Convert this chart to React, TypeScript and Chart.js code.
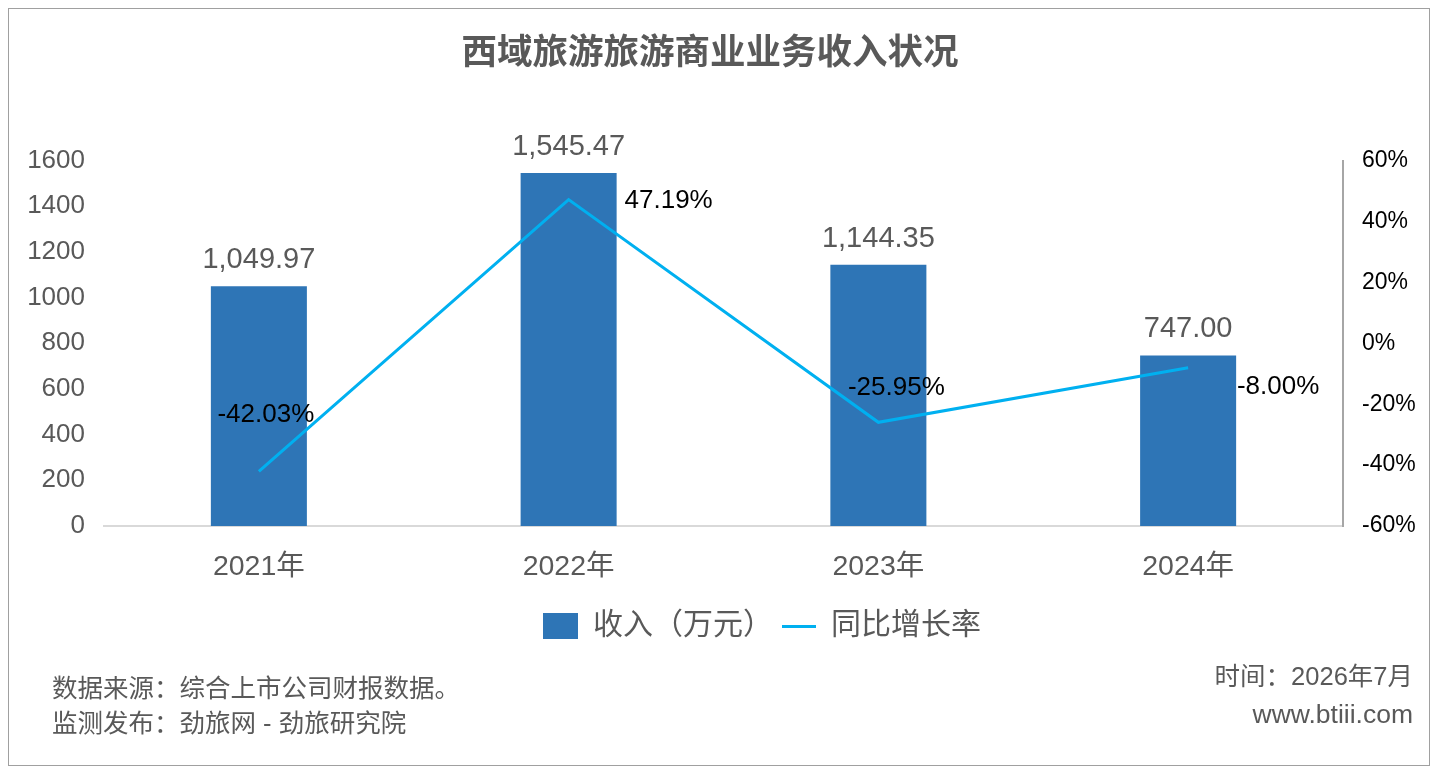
import { useEffect, useRef } from "react";
import { Chart, ChartConfiguration, Plugin, registerables } from "chart.js";

Chart.register(...registerables);

const years = ["2021年", "2022年", "2023年", "2024年"];
const revenue = [1049.97, 1545.47, 1144.35, 747.0];
const growth = [-42.03, 47.19, -25.95, -8.0];
const leftTicks = { min: 0, max: 1600, step: 200 };
const rightTicks = { min: -60, max: 60, step: 20 };

// where each growth label sits relative to its point (px)
const growthLabelOffsets = [
    [7, -56],
    [100, 1],
    [18, -34],
    [90, 19],
];

const FONT = '"Liberation Sans", "Noto Sans CJK SC", sans-serif';
const GREY = "#595959";
const BAR_BLUE = "#2E75B6";
const LINE_BLUE = "#00B0F0";

const labelsPlugin: Plugin<"bar"> = {
    id: "valueLabels",
    afterDatasetsDraw(chart) {
        const ctx = chart.ctx;
        ctx.save();
        ctx.textAlign = "center";
        ctx.textBaseline = "middle";

        const barMeta = chart.getDatasetMeta(0);
        ctx.font = `29px ${FONT}`;
        ctx.fillStyle = GREY;
        barMeta.data.forEach((el, i) => {
            const text = revenue[i].toLocaleString("en-US", {
                minimumFractionDigits: 2,
                maximumFractionDigits: 2,
            });
            ctx.fillText(text, el.x, el.y - 26);
        });

        const lineMeta = chart.getDatasetMeta(1);
        ctx.font = `26px ${FONT}`;
        ctx.fillStyle = "#000000";
        lineMeta.data.forEach((el, i) => {
            const [dx, dy] = growthLabelOffsets[i];
            ctx.fillText(growth[i].toFixed(2) + "%", el.x + dx, el.y + dy);
        });
        ctx.restore();
    },
};

const footerPlugin: Plugin<"bar"> = {
    id: "footerText",
    afterDraw(chart) {
        const ctx = chart.ctx;
        ctx.save();
        ctx.font = `25.5px ${FONT}`;
        ctx.fillStyle = GREY;
        ctx.textBaseline = "middle";
        ctx.textAlign = "left";
        ctx.fillText("数据来源：综合上市公司财报数据。", 43, 681);
        ctx.fillText("监测发布：劲旅网 - 劲旅研究院", 43, 716);
        ctx.textAlign = "right";
        ctx.fillText("时间：2026年7月", 1404, 669);
        ctx.font = `26.5px ${FONT}`;
        ctx.fillText("www.btiii.com", 1404, 707);
        ctx.restore();
    },
};

// nudge title and legend off-centre, as in the original layout
const shiftPlugin: Plugin<"bar"> = {
    id: "shiftBlocks",
    afterLayout(chart) {
        const c = chart as unknown as {
            legend?: { left: number; right: number };
            titleBlock?: { left: number; right: number };
        };
        if (c.legend) {
            c.legend.left += 43;
            c.legend.right += 43;
        }
        if (c.titleBlock) {
            c.titleBlock.left -= 9;
            c.titleBlock.right -= 9;
        }
    },
};

function makeSwatch(w: number, h: number, color: string) {
    const c = document.createElement("canvas");
    c.width = w;
    c.height = h;
    const g = c.getContext("2d");
    if (g) {
        g.fillStyle = color;
        g.fillRect(0, 0, w, h);
    }
    return c;
}

export default function App() {
    const chartRef = useRef<HTMLCanvasElement | null>(null);
    const chartInstance = useRef<Chart | null>(null);

    useEffect(() => {
        if (!chartRef.current) return;
        const ctx = chartRef.current.getContext("2d");
        if (!ctx) return;
        if (chartInstance.current) chartInstance.current.destroy();

        const barSwatch = makeSwatch(35, 26, BAR_BLUE);
        const lineSwatch = makeSwatch(34, 3, LINE_BLUE);

        const config: ChartConfiguration<"bar" | "line", number[], string> = {
            type: "bar",
            data: {
                labels: years,
                datasets: [
                    {
                        type: "bar",
                        label: "收入（万元）",
                        data: revenue,
                        backgroundColor: BAR_BLUE,
                        barPercentage: 0.31,
                        categoryPercentage: 1,
                        yAxisID: "y",
                        order: 1,
                    },
                    {
                        type: "line",
                        label: "同比增长率",
                        data: growth,
                        borderColor: LINE_BLUE,
                        borderWidth: 3,
                        pointRadius: 0,
                        tension: 0,
                        yAxisID: "y1",
                        order: 0,
                    },
                ],
            },
            options: {
                animation: false,
                responsive: false,
                layout: { padding: { left: 0, right: 0, top: 0, bottom: 114 } },
                plugins: {
                    title: {
                        display: true,
                        text: "西域旅游旅游商业业务收入状况",
                        color: GREY,
                        font: { family: FONT, size: 35.5, weight: "bold" },
                        padding: { top: 24, bottom: 85 },
                    },
                    legend: {
                        position: "bottom",
                        labels: {
                            usePointStyle: true,
                            pointStyleWidth: 35,
                            color: GREY,
                            font: { family: FONT, size: 30 },
                            padding: 8,
                            generateLabels: () => [
                                {
                                    text: "收入（万元）",
                                    pointStyle: barSwatch,
                                    fillStyle: BAR_BLUE,
                                    strokeStyle: BAR_BLUE,
                                    lineWidth: 0,
                                    hidden: false,
                                    datasetIndex: 0,
                                    fontColor: GREY,
                                },
                                {
                                    text: "同比增长率",
                                    pointStyle: lineSwatch,
                                    fillStyle: LINE_BLUE,
                                    strokeStyle: LINE_BLUE,
                                    lineWidth: 0,
                                    hidden: false,
                                    datasetIndex: 1,
                                    fontColor: GREY,
                                },
                            ],
                        },
                    },
                    tooltip: { enabled: false },
                },
                scales: {
                    x: {
                        grid: { display: false, drawTicks: false },
                        border: { display: true, color: "#d9d9d9", width: 2 },
                        ticks: { color: GREY, font: { family: FONT, size: 28.5 }, padding: 24 },
                        afterFit: (s) => {
                            s.height = 77;
                        },
                    },
                    y: {
                        position: "left",
                        min: leftTicks.min,
                        max: leftTicks.max,
                        grid: { display: false, drawTicks: false },
                        border: { display: false },
                        ticks: {
                            stepSize: leftTicks.step,
                            color: GREY,
                            font: { family: FONT, size: 26 },
                            padding: 19,
                            callback: (v) => String(v),
                        },
                        afterFit: (s) => {
                            s.width = 95;
                        },
                    },
                    y1: {
                        position: "right",
                        min: rightTicks.min,
                        max: rightTicks.max,
                        grid: { display: false, drawTicks: false },
                        border: { display: true, color: "#a6a6a6", width: 2 },
                        ticks: {
                            stepSize: rightTicks.step,
                            color: "#000000",
                            font: { family: FONT, size: 23 },
                            padding: 19,
                            callback: (v) => v + "%",
                        },
                        afterFit: (s) => {
                            s.width = 86;
                        },
                    },
                },
            },
            plugins: [
                labelsPlugin as Plugin<"bar" | "line">,
                footerPlugin as Plugin<"bar" | "line">,
                shiftPlugin as Plugin<"bar" | "line">,
            ],
        };

        chartInstance.current = new Chart(ctx, config as ChartConfiguration);

        return () => {
            if (chartInstance.current) {
                chartInstance.current.destroy();
                chartInstance.current = null;
            }
        };
    }, []);

    return (
        <div
            style={{
                width: 1420,
                height: 756,
                border: "1px solid #a0a0a0",
                background: "#ffffff",
            }}
        >
            <canvas ref={chartRef} width={1420} height={756}></canvas>
        </div>
    );
}
